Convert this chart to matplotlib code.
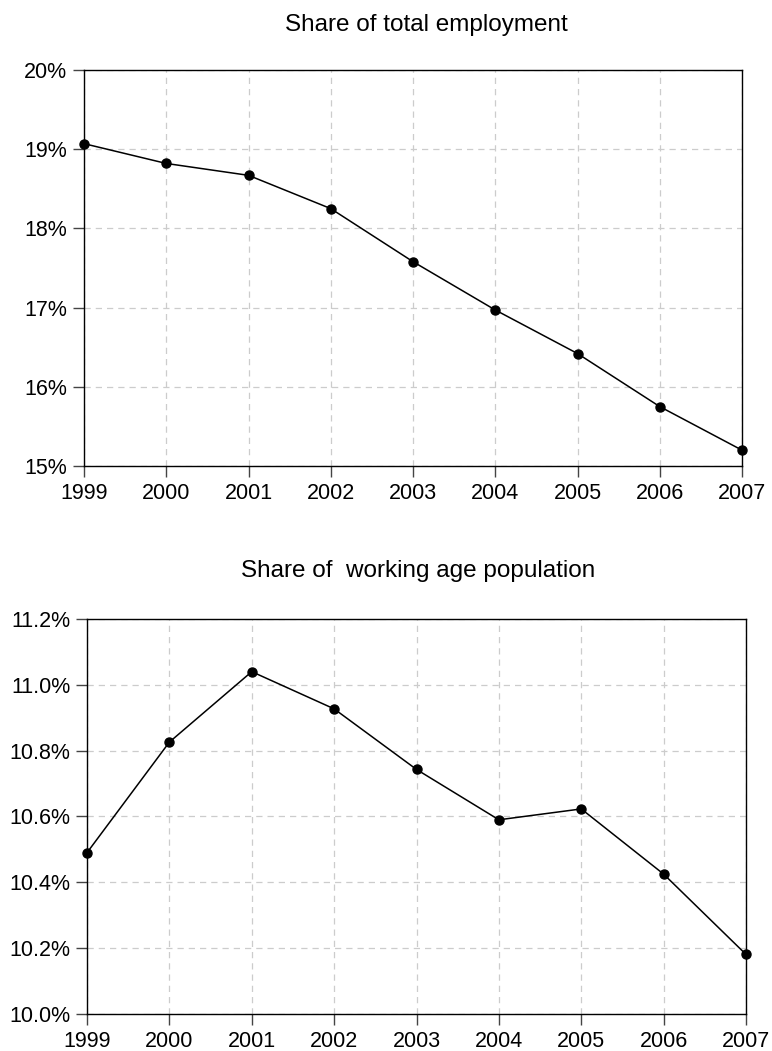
import matplotlib
matplotlib.use("Agg")
import matplotlib.pyplot as plt
from matplotlib.ticker import FuncFormatter

plt.rcParams['font.family'] = ['Liberation Sans', 'DejaVu Sans']

years = [1999, 2000, 2001, 2002, 2003, 2004, 2005, 2006, 2007]
employment_share = [19.07, 18.82, 18.67, 18.25, 17.58, 16.97, 16.42, 15.75, 15.20]
population_share = [10.49, 10.826, 11.04, 10.927, 10.743, 10.59, 10.623, 10.425, 10.181]

title_top = "Share of total employment"
title_bottom = "Share of  working age population"

W, H = 772, 1051
fig = plt.figure(figsize=(W / 100, H / 100), dpi=100)

def make_axes(l, r, t, b):
    return fig.add_axes([l / W, 1 - b / H, (r - l) / W, (b - t) / H])

ax1 = make_axes(84, 742, 70, 466)
ax2 = make_axes(87, 746, 619, 1014)

def style(ax, yticks, fmt, ylim):
    ax.set_xlim(1999, 2007)
    ax.set_ylim(*ylim)
    ax.set_xticks(years)
    ax.set_xticklabels([str(y) for y in years])
    ax.set_yticks(yticks)
    ax.yaxis.set_major_formatter(FuncFormatter(lambda v, p: fmt.format(v)))
    ax.grid(True, color='#cccccc', linestyle=(0, (5, 4)), linewidth=0.9)
    ax.set_axisbelow(True)
    ax.tick_params(axis='both', direction='out', length=8, width=1, labelsize=15.5,
                   color='#444444', labelcolor='black')
    ax.tick_params(axis='x', pad=4.5)
    ax.tick_params(axis='y', pad=4)
    for s in ax.spines.values():
        s.set_linewidth(1.0)
        s.set_color('black')

ax1.plot(years, employment_share, color='black', linewidth=1.1, marker='o',
         markersize=6.5, clip_on=False, zorder=5)
style(ax1, [15, 16, 17, 18, 19, 20], "{:.0f}%", (15, 20))

ax2.plot(years, population_share, color='black', linewidth=1.1, marker='o',
         markersize=6.5, clip_on=False, zorder=5)
style(ax2, [10.0, 10.2, 10.4, 10.6, 10.8, 11.0, 11.2], "{:.1f}%", (10.0, 11.2))

fig.text(426 / W, 1 - 25 / H, title_top, ha='center', va='center', fontsize=17.5)
fig.text(418 / W, 1 - 571 / H, title_bottom, ha='center', va='center', fontsize=17.5)

fig.savefig("out.png", dpi=100)
